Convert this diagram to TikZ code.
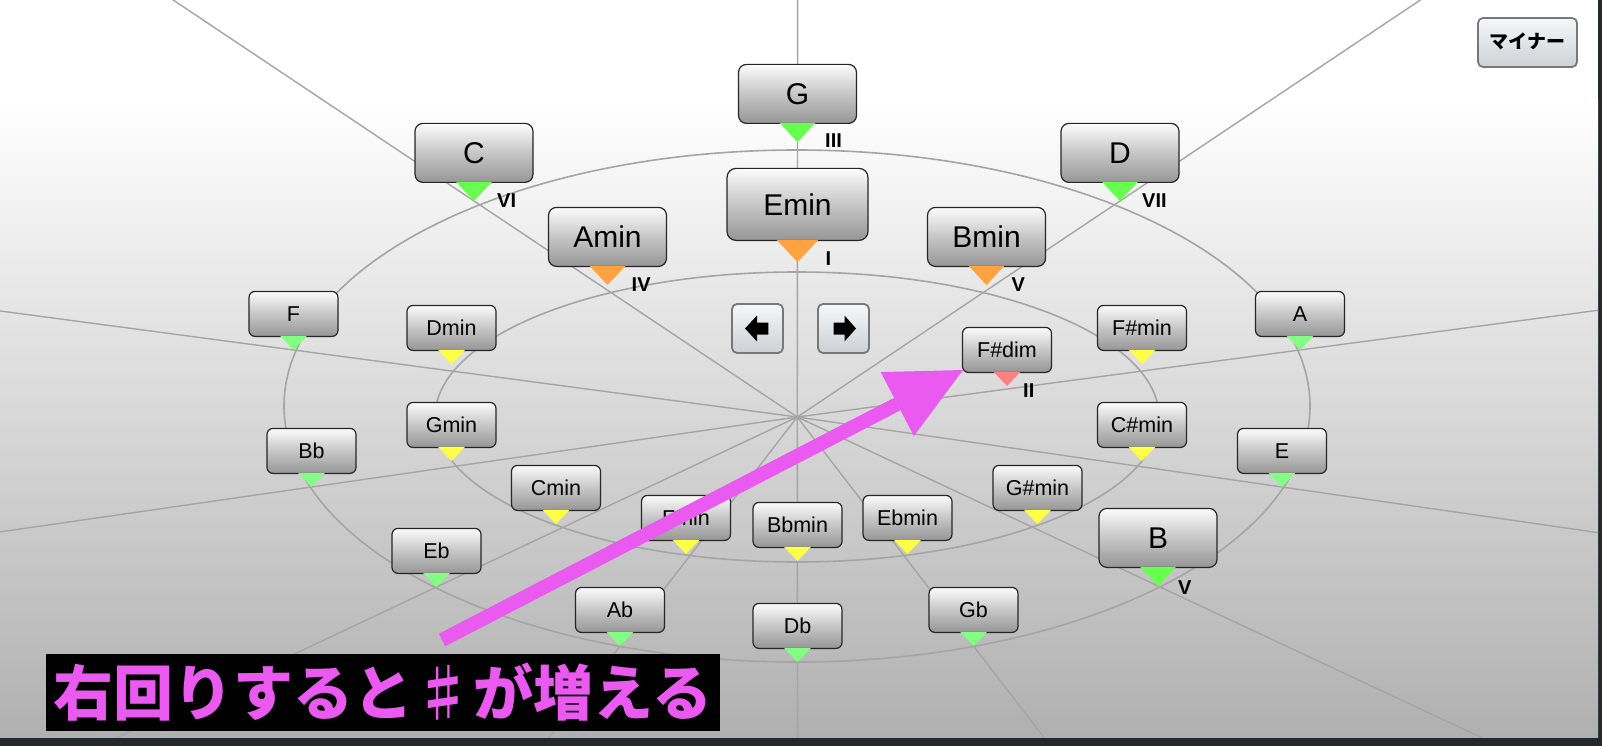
\documentclass[tikz,border=0pt]{standalone}
\usepackage{fontspec}
\setmainfont{Liberation Sans}
\newfontfamily\cjk{Noto Sans CJK JP}
\usetikzlibrary{calc}
\definecolor{darkband}{RGB}{35,40,44}
\definecolor{bggray}{RGB}{176,176,176}
\definecolor{linegray}{RGB}{165,165,165}
\definecolor{boxtop}{RGB}{252,252,252}
\definecolor{boxmid}{RGB}{198,198,198}
\definecolor{boxbot}{RGB}{150,150,150}
\definecolor{greenbig}{RGB}{102,255,77}
\definecolor{greensmall}{RGB}{130,255,130}
\definecolor{yellowtri}{RGB}{255,255,70}
\definecolor{orangetri}{RGB}{255,162,64}
\definecolor{redtri}{RGB}{255,128,128}
\definecolor{magentaarrow}{RGB}{234,90,240}
\definecolor{btntop}{RGB}{246,247,248}
\definecolor{btnbot}{RGB}{205,209,213}
\definecolor{btnborder}{RGB}{120,120,120}
\tikzset{
  chord/.style={draw=black!85, line width=1.2pt, rounded corners=7pt,
    top color=boxtop, bottom color=boxbot, middle color=boxmid,
    inner sep=0pt, text depth=0pt, anchor=south},
  bigchord/.style={chord, minimum width=118pt, minimum height=59pt,
    font=\fontsize{30}{30}\selectfont, text height=21.5pt, rounded corners=8pt},
  emchord/.style={chord, minimum width=141pt, minimum height=72pt,
    font=\fontsize{30}{30}\selectfont, text height=21.5pt, rounded corners=9pt},
  smallchord/.style={chord, minimum width=89pt, minimum height=45pt,
    font=\fontsize{21.5}{21.5}\selectfont, text height=15.4pt, rounded corners=6pt},
  roman/.style={font=\bfseries\fontsize{20}{20}\selectfont, anchor=west,
    inner sep=0pt, text height=14.3pt, text depth=0pt},
  ring/.style={draw=linegray, line width=1.6pt},
  ray/.style={draw=linegray, line width=1.4pt},
  btn/.style={draw=btnborder, line width=1.8pt, rounded corners=5pt,
    top color=btntop, bottom color=btnbot, inner sep=0pt},
}
\newcommand\chordbox[6]{%
  \node[#2] (#1) at ($(#1t)+(0,-#6)$) {#3};
  \fill[#4] ($(#1.south)+(-#5,-1.2)$) -- ($(#1.south)+(#5,-1.2)$) -- (#1t) -- cycle;
}
\begin{document}
\begin{tikzpicture}[x=1pt,y=-1pt]
\useasboundingbox (0,0) rectangle (1602,746);
\fill[darkband] (0,0) rectangle (1602,746);
\fill[white] (0,0) rectangle (1598,100);
\shade[top color=white, bottom color=bggray] (0,100) rectangle (1598,737);

% centre and chord tips
\coordinate (O) at (797.25,417);
\coordinate (Gt) at (797.5,142);
\coordinate (Emt) at (797.5,262);
\coordinate (Ct) at (474,201);
\coordinate (Dt) at (1120,201);
\coordinate (Amt) at (607.5,285);
\coordinate (Bmt) at (986.5,285);
\coordinate (Bt) at (1158,586);
\coordinate (Ft) at (293.5,350);
\coordinate (At) at (1300,350);
\coordinate (Dmt) at (451.5,364);
\coordinate (Fsmt) at (1142,364);
\coordinate (Gmt) at (451.5,461);
\coordinate (Csmt) at (1142,461);
\coordinate (Bbt) at (311.5,487);
\coordinate (Et) at (1282,487);
\coordinate (Cmt) at (556,524);
\coordinate (Gsmt) at (1037.5,524);
\coordinate (Fmt) at (686,554);
\coordinate (Ebmt) at (907.5,554);
\coordinate (Bbmt) at (797.5,561);
\coordinate (Ebt) at (436.5,587);
\coordinate (Abt) at (620,646);
\coordinate (Gbt) at (973.5,646);
\coordinate (Dbt) at (797.5,662);
\coordinate (Fsdt) at (1007,386);

\begin{scope}
  \clip (0,0) rectangle (1598,737);
  \draw[ring] (797,406) ellipse [x radius=513pt, y radius=256pt];
  \draw[ring] (797,417) ellipse [x radius=362pt, y radius=145pt];
  \foreach \t in {Gt,Dt,At,Et,Bt,Gbt,Dbt,Abt,Ebt,Bbt,Ft,Ct}
    \draw[ray] (O) -- ($(O)!4!(\t)$);
\end{scope}

% major chords
\chordbox{G}{bigchord}{G}{greenbig}{18}{18}
\chordbox{C}{bigchord}{C}{greenbig}{18}{18}
\chordbox{D}{bigchord}{D}{greenbig}{18}{18}
\chordbox{B}{bigchord}{B}{greenbig}{18}{18}
\chordbox{F}{smallchord}{F}{greensmall}{13.5}{13}
\chordbox{A}{smallchord}{A}{greensmall}{13.5}{13}
\chordbox{Bb}{smallchord}{Bb}{greensmall}{13.5}{13}
\chordbox{E}{smallchord}{E}{greensmall}{13.5}{13}
\chordbox{Eb}{smallchord}{Eb}{greensmall}{13.5}{13}
\chordbox{Ab}{smallchord}{Ab}{greensmall}{13.5}{13}
\chordbox{Db}{smallchord}{Db}{greensmall}{13.5}{13}
\chordbox{Gb}{smallchord}{Gb}{greensmall}{13.5}{13}
% minor chords
\chordbox{Em}{emchord}{Emin}{orangetri}{21}{21}
\chordbox{Am}{bigchord}{Amin}{orangetri}{18}{18}
\chordbox{Bm}{bigchord}{Bmin}{orangetri}{18}{18}
\chordbox{Dm}{smallchord}{Dmin}{yellowtri}{13.5}{13}
\chordbox{Fsm}{smallchord}{F\#min}{yellowtri}{13.5}{13}
\chordbox{Gm}{smallchord}{Gmin}{yellowtri}{13.5}{13}
\chordbox{Csm}{smallchord}{C\#min}{yellowtri}{13.5}{13}
\chordbox{Cm}{smallchord}{Cmin}{yellowtri}{13.5}{13}
\chordbox{Gsm}{smallchord}{G\#min}{yellowtri}{13.5}{13}
\chordbox{Fm}{smallchord}{Fmin}{yellowtri}{13.5}{13}
\chordbox{Ebm}{smallchord}{Ebmin}{yellowtri}{13.5}{13}
\chordbox{Bbm}{smallchord}{Bbmin}{yellowtri}{13.5}{13}
\chordbox{Fsd}{smallchord}{F\#dim}{redtri}{13.5}{13}

% degree labels
\node[roman] (lIII) at ($(Gt)+(27.5,-2)$) {III};
\node[roman] (lI) at ($(Emt)+(28,-3.5)$) {I};
\node[roman] (lVI) at ($(Ct)+(23,-1)$) {VI};
\node[roman] (lVII) at ($(Dt)+(22,-1)$) {VII};
\node[roman] (lIV) at ($(Amt)+(24,-1)$) {IV};
\node[roman] (lV) at ($(Bmt)+(25,-1)$) {V};
\node[roman] (lVb) at ($(Bt)+(20,1)$) {V};
\node[roman] (lII) at ($(Fsdt)+(16,4.5)$) {II};

% buttons
\node[btn, minimum width=51pt, minimum height=49pt] (left) at (757.5,328.5) {};
\node[btn, minimum width=51pt, minimum height=49pt] (right) at (843.5,328.5) {};
\fill[black] ($(left)+(-12.5,0)$) -- ($(left)+(-0.5,-13)$) -- ($(left)+(-0.5,-6)$)
  -- ($(left)+(10.8,-6)$) -- ($(left)+(10.8,6)$) -- ($(left)+(-0.5,6)$)
  -- ($(left)+(-0.5,13)$) -- cycle;
\fill[black] ($(right)+(12.5,0)$) -- ($(right)+(1,-13)$) -- ($(right)+(1,-6)$)
  -- ($(right)+(-10,-6)$) -- ($(right)+(-10,6)$) -- ($(right)+(1,6)$)
  -- ($(right)+(1,13)$) -- cycle;
\node[btn, minimum width=99pt, minimum height=49pt, text height=14pt, text depth=2pt,
  font=\cjk\bfseries\fontsize{19}{19}\selectfont] (minor) at (1527.5,42.5) {マイナー};

% magenta arrow
\coordinate (tail) at (442,640);
\coordinate (head) at (963,370);
\coordinate (hb) at ($(head)!74pt!(tail)$);
\draw[magentaarrow, line width=14pt] (tail) -- (hb);
\fill[magentaarrow] ($(hb)!36pt!90:(head)$) -- (head) -- ($(hb)!36pt!-90:(head)$) -- cycle;

% caption
\node[fill=black, minimum width=674pt, minimum height=77pt, inner sep=0pt,
  text=magentaarrow, text height=50pt, text depth=4pt,
  font=\cjk\bfseries\fontsize{60}{60}\selectfont] (caption) at (383,692.5) {右回りすると♯が増える};
\end{tikzpicture}
\end{document}
